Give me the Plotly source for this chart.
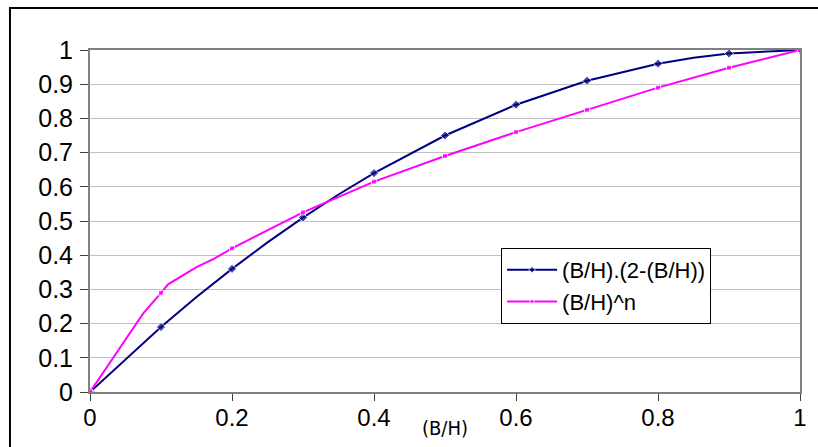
import plotly.graph_objects as go

# Series 1: (B/H).(2-(B/H))
bh_blue = [0, 0.1, 0.15, 0.2, 0.25, 0.3, 0.35, 0.4, 0.5, 0.6, 0.7, 0.8, 0.85, 0.9, 1.0]
val_blue = [0, 0.19, 0.2775, 0.36, 0.4375, 0.51, 0.5775, 0.64, 0.75, 0.84, 0.91, 0.96, 0.9775, 0.99, 1.0]
mark_blue = [1, 1, 0, 1, 0, 1, 0, 1, 1, 1, 1, 1, 0, 1, 1]

# Series 2: (B/H)^n
bh_pink = [0, 0.075, 0.1, 0.11, 0.15, 0.175, 0.2, 0.3, 0.4, 0.5, 0.6, 0.7, 0.8, 0.9, 1.0]
val_pink = [0, 0.23, 0.29, 0.315, 0.365, 0.39, 0.42, 0.525, 0.615, 0.69, 0.76, 0.825, 0.89, 0.948, 1.0]
mark_pink = [1, 0, 1, 0, 0, 0, 1, 1, 1, 1, 1, 1, 1, 1, 1]

x_ticks = [0, 0.2, 0.4, 0.6, 0.8, 1]
x_labels = ["0", "0.2", "0.4", "0.6", "0.8", "1"]
y_ticks = [0, 0.1, 0.2, 0.3, 0.4, 0.5, 0.6, 0.7, 0.8, 0.9, 1]
y_labels = ["0", "0.1", "0.2", "0.3", "0.4", "0.5", "0.6", "0.7", "0.8", "0.9", "1"]

fig = go.Figure()
fig.add_trace(go.Scatter(
    x=bh_blue, y=val_blue, mode="lines+markers", name="(B/H).(2-(B/H))",
    line=dict(color="#000080", width=2),
    marker=dict(symbol="diamond", color="#000080", size=[7 * m for m in mark_blue]),
))
fig.add_trace(go.Scatter(
    x=bh_pink, y=val_pink, mode="lines+markers", name="(B/H)^n",
    line=dict(color="#FF00FF", width=2),
    marker=dict(symbol="square", color="#FF00FF", size=[5 * m for m in mark_pink]),
))

fam = "Liberation Sans, Arial, sans-serif"

fig.update_layout(
    width=818, height=447,
    margin=dict(l=90, r=18, t=50, b=55),
    paper_bgcolor="white", plot_bgcolor="white",
    showlegend=True,
    legend=dict(
        x=0.579, y=0.421, xanchor="left", yanchor="top",
        bgcolor="white", bordercolor="#000000", borderwidth=1,
        font=dict(family=fam, size=22, color="#000000"),
        traceorder="grouped", tracegroupgap=9, itemwidth=50,
    ),
    xaxis=dict(
        range=[0, 1], tickvals=x_ticks, ticktext=x_labels,
        showgrid=False, zeroline=False,
        showline=True, linecolor="#808080", linewidth=2, mirror=True,
        ticks="outside", ticklen=7, tickcolor="#404040",
        tickfont=dict(family=fam, size=24, color="#000000"),
        ticklabelstandoff=-4,
    ),
    yaxis=dict(
        range=[0, 1], tickvals=y_ticks, ticktext=y_labels,
        showgrid=True, gridcolor="#C0C0C0", gridwidth=1, zeroline=False,
        showline=True, linecolor="#808080", linewidth=2, mirror=True,
        ticks="outside", ticklen=8, tickcolor="#404040",
        tickfont=dict(family=fam, size=25, color="#000000"),
        ticklabelstandoff=2,
    ),
    annotations=[dict(
        text="(B/H)", xref="paper", yref="paper", x=0.5, y=-0.105,
        xanchor="center", yanchor="middle", showarrow=False,
        font=dict(family="Liberation Sans Narrow, Arial Narrow, DejaVu Sans Condensed, sans-serif", size=20, color="#000000"),
    )],
    shapes=[dict(
        type="rect", xref="paper", yref="paper",
        x0=-0.1127, x1=1.2, y0=-0.5, y1=1.123,
        line=dict(color="#000000", width=2), fillcolor="rgba(0,0,0,0)", layer="below",
    )],
)

fig.write_html("out.html", config={"displayModeBar": False},
               post_script="document.body.style.margin='0';")
